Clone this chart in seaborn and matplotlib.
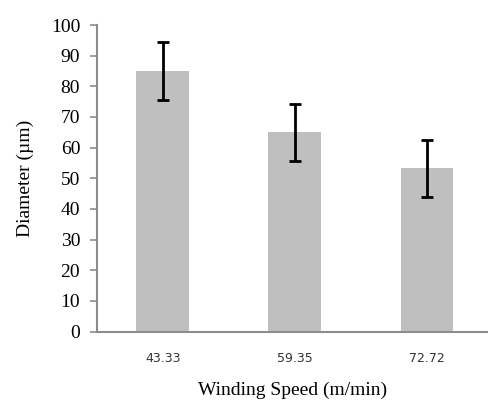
import numpy as np
import pandas as pd
import seaborn as sns
import matplotlib.pyplot as plt

speeds = ["43.33", "59.35", "72.72"]
diameters = [85.0, 65.0, 53.3]
errors = [9.3, 9.3, 9.3]

df = pd.DataFrame({"speed": speeds, "diameter": diameters})

sns.set_style("white")

fig = plt.figure(figsize=(4.89, 4.07), dpi=100)
ax = fig.add_axes([0.198, 0.1855, 0.802, 0.753])

sns.barplot(data=df, x="speed", y="diameter", color="#bfbfbf", saturation=1,
            width=0.4, errorbar=None, linewidth=0, ax=ax)

ax.errorbar(np.arange(len(speeds)), diameters, yerr=errors, fmt="none",
            ecolor="black", elinewidth=2, capsize=4.5, capthick=2)

ax.set_xlim(-0.5, 2.47)
ax.set_ylim(0, 100)
ax.set_yticks(range(0, 101, 10))

for side in ["top", "right"]:
    ax.spines[side].set_visible(False)
for side in ["left", "bottom"]:
    ax.spines[side].set_color("#8c8c8c")
    ax.spines[side].set_linewidth(1.5)

ax.tick_params(axis="y", left=True, length=5, width=1.2, color="#8c8c8c",
               pad=7)
ax.tick_params(axis="x", bottom=False, pad=11)

for lab in ax.get_yticklabels():
    lab.set_fontfamily("Liberation Serif")
    lab.set_fontsize(14)
    lab.set_color("black")
for lab in ax.get_xticklabels():
    lab.set_fontfamily("DejaVu Sans")
    lab.set_fontsize(9)
    lab.set_color("#333333")

ax.set_xlabel("Winding Speed (m/min)", family="Liberation Serif",
              fontsize=14, labelpad=12, color="black")
ax.set_ylabel("Diameter (\u00b5m)", family="Liberation Serif",
              fontsize=14, labelpad=12, color="black")

fig.savefig("out.png", dpi=100)
plt.close(fig)
